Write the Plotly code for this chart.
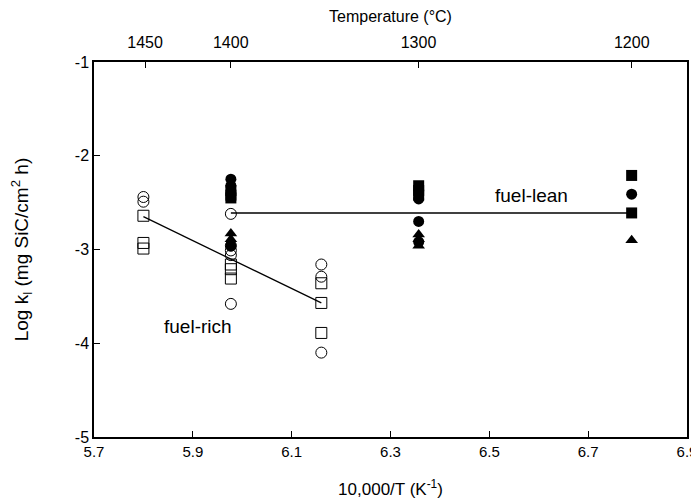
import plotly.graph_objects as go

# ---- data ----
rich_circle_x = [5.80, 5.80, 5.977, 5.977, 5.977, 5.977, 5.977, 6.16, 6.16, 6.16]
rich_circle_y = [-2.44, -2.49, -2.62, -2.96, -3.01, -3.06, -3.58, -3.16, -3.29, -4.10]
rich_square_x = [5.80, 5.80, 5.80, 5.977, 5.977, 5.977, 6.16, 6.16, 6.16]
rich_square_y = [-2.64, -2.93, -2.99, -3.16, -3.21, -3.31, -3.36, -3.57, -3.89]

lean_circle_x = [5.977, 5.977, 5.977, 6.357, 6.357, 6.357, 6.788]
lean_circle_y = [-2.25, -2.32, -2.96, -2.46, -2.70, -2.92, -2.41]
lean_square_x = [5.977, 5.977, 5.977, 6.357, 6.357, 6.357, 6.788, 6.788]
lean_square_y = [-2.37, -2.42, -2.45, -2.32, -2.37, -2.42, -2.21, -2.61]
lean_tri_x = [5.977, 5.977, 6.357, 6.357, 6.357, 6.788]
lean_tri_y = [-2.83, -2.89, -2.84, -2.89, -2.96, -2.90]

lean_fit_x = [5.977, 6.788]
lean_fit_y = [-2.61, -2.61]
rich_fit_x = [5.80, 6.16]
rich_fit_y = [-2.65, -3.57]

temp_ticks_c = [1450, 1400, 1300, 1200]
x_ticks = [5.7, 5.9, 6.1, 6.3, 6.5, 6.7, 6.9]
y_ticks = [-1, -2, -3, -4, -5]

FONT = "Liberation Sans, Arial, sans-serif"

fig = go.Figure()
fig.add_trace(go.Scatter(x=rich_fit_x, y=rich_fit_y, mode="lines",
                         line=dict(color="black", width=1.3), showlegend=False))
fig.add_trace(go.Scatter(x=lean_fit_x, y=lean_fit_y, mode="lines",
                         line=dict(color="black", width=1.6), showlegend=False))
fig.add_trace(go.Scatter(x=rich_circle_x, y=rich_circle_y, mode="markers",
                         marker=dict(symbol="circle-open", size=11, color="black",
                                     line=dict(width=1)), showlegend=False))
fig.add_trace(go.Scatter(x=rich_square_x, y=rich_square_y, mode="markers",
                         marker=dict(symbol="square-open", size=11, color="black",
                                     line=dict(width=1)), showlegend=False))
fig.add_trace(go.Scatter(x=lean_circle_x, y=lean_circle_y, mode="markers",
                         marker=dict(symbol="circle", size=11, color="black"), showlegend=False))
fig.add_trace(go.Scatter(x=lean_square_x, y=lean_square_y, mode="markers",
                         marker=dict(symbol="square", size=11, color="black"), showlegend=False))
fig.add_trace(go.Scatter(x=lean_tri_x, y=lean_tri_y, mode="markers",
                         marker=dict(symbol="triangle-up", size=11, color="black"), showlegend=False))
# invisible trace for top axis
fig.add_trace(go.Scatter(x=[5.7, 6.9], y=[-5, -5], xaxis="x2", mode="markers",
                         marker=dict(opacity=0), showlegend=False, hoverinfo="skip"))

fig.add_annotation(x=6.585, y=-2.42, text="fuel-lean", showarrow=False,
                   font=dict(size=19, color="black", family=FONT))
fig.add_annotation(x=5.91, y=-3.82, text="fuel-rich", showarrow=False,
                   font=dict(size=19, color="black", family=FONT))

fig.update_layout(
    width=699, height=501,
    margin=dict(l=86, r=20, t=54, b=72, autoexpand=False),
    plot_bgcolor="white", paper_bgcolor="white",
    font=dict(family=FONT, color="black", size=15),
    xaxis=dict(range=[5.7, 6.9], tickvals=x_ticks, ticktext=[f"{v:.1f}" for v in x_ticks],
               ticks="inside", ticklen=6, tickcolor="black", showline=True, linecolor="black",
               linewidth=1.5, mirror=True, showgrid=False, zeroline=False, automargin=False,
               tickfont=dict(size=15),
               title=dict(text="10,000/T (K<sup>-1</sup>)", font=dict(size=17), standoff=24)),
    xaxis2=dict(range=[5.7, 6.9], overlaying="x", side="top", anchor="y",
                tickvals=[10000 / (t + 273.15) for t in temp_ticks_c],
                ticktext=[str(t) for t in temp_ticks_c], automargin=False,
                ticks="inside", ticklen=6, tickcolor="black", showgrid=False, zeroline=False,
                tickfont=dict(size=16), ticklabelstandoff=10,
                title=dict(text="Temperature (°C)", font=dict(size=16), standoff=16)),
    yaxis=dict(range=[-5, -1], tickvals=y_ticks, ticktext=[str(v) for v in y_ticks],
               ticks="inside", ticklen=6, tickcolor="black", showline=True, linecolor="black",
               linewidth=1.5, mirror=True, showgrid=False, zeroline=False, automargin=False,
               tickfont=dict(size=16),
               title=dict(text="Log k<sub>l</sub> (mg SiC/cm<sup>2</sup> h)", font=dict(size=19),
                          standoff=42)),
)

fig.write_html("out.html")
